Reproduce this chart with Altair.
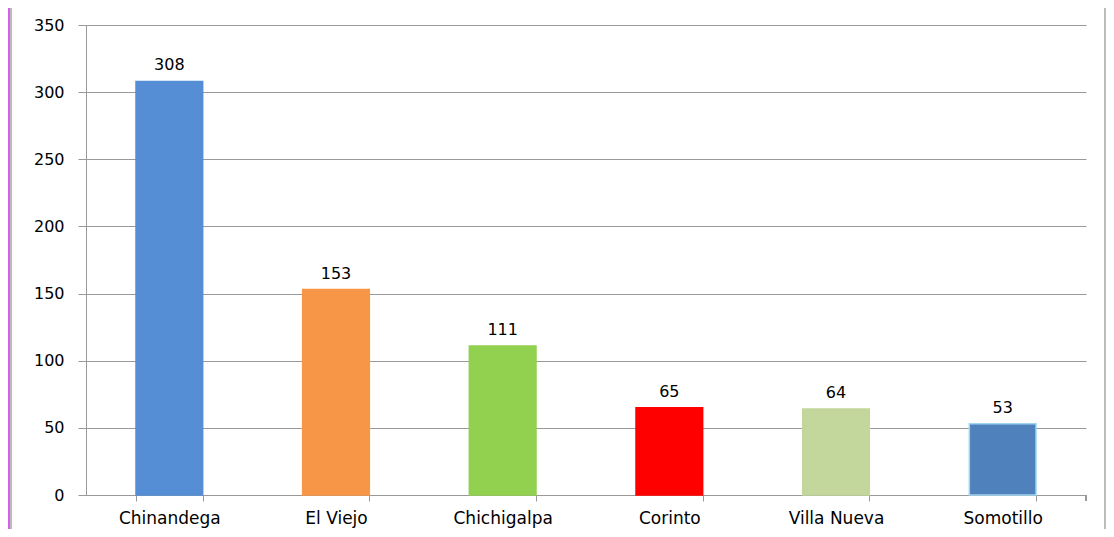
import altair as alt
import pandas as pd

categories = ["Chinandega", "El Viejo", "Chichigalpa", "Corinto", "Villa Nueva", "Somotillo"]
values = [308, 153, 111, 65, 64, 53]
colors = ["#558ed5", "#f79646", "#92d050", "#ff0000", "#c3d69b", "#4f81bd"]
strokes = ["#558ed5", "#f79646", "#92d050", "#ff0000", "#c3d69b", "#9fd3ef"]
y_ticks = [0, 50, 100, 150, 200, 250, 300, 350]

df = pd.DataFrame({"cat": categories, "val": values, "color": colors, "stroke": strokes})

FONT = "DejaVu Sans"

xenc = alt.X("cat:N", sort=categories, title=None,
             scale=alt.Scale(paddingInner=0.6, paddingOuter=0.3),
             axis=alt.Axis(labelAngle=0, labelFontSize=17, labelFont=FONT, labelColor="#000000",
                           labelPadding=9, tickBand="extent", tickSize=6, tickColor="#999999",
                           domainColor="#999999", grid=False))
yenc = alt.Y("val:Q", title=None,
             scale=alt.Scale(domain=[0, 350], nice=False),
             axis=alt.Axis(values=y_ticks, labelFontSize=16, labelFont=FONT, labelColor="#000000",
                           labelPadding=14, tickSize=8, tickColor="#999999", domainColor="#999999",
                           gridColor="#999999", gridWidth=1))

# decorative purple frame strip on the left and thin gray panel edges
strip = alt.Chart(df).mark_rect(fill="#d35fea").encode(
    x=alt.value(-78), x2=alt.value(-75), y=alt.value(-17), y2=alt.value(504)
)
edge_left = alt.Chart(df).mark_rule(color="#bbbbbb", strokeWidth=1).encode(
    x=alt.value(-75), y=alt.value(-17), y2=alt.value(504)
)
edge_right = alt.Chart(df).mark_rule(color="#bbbbbb", strokeWidth=1).encode(
    x=alt.value(1019), y=alt.value(-17), y2=alt.value(504)
)
end_tick = alt.Chart(df).mark_rule(color="#999999", strokeWidth=1).encode(
    x=alt.value(1000), y=alt.value(470), y2=alt.value(476)
)

bars = alt.Chart(df).mark_bar(strokeWidth=1.5).encode(
    x=xenc, y=yenc,
    fill=alt.Fill("color:N", scale=None),
    stroke=alt.Stroke("stroke:N", scale=None),
)

labels = alt.Chart(df).mark_text(baseline="alphabetic", dy=-11, fontSize=16, font=FONT, color="#000000").encode(
    x=alt.X("cat:N", sort=categories), y=alt.Y("val:Q"), text="val:Q"
)

chart = alt.layer(bars, labels, strip, edge_left, edge_right, end_tick).properties(
    width=1000, height=470,
    background="white",
    padding={"left": 78, "top": 17, "right": 20, "bottom": 34},
    autosize=alt.AutoSizeParams(type="none"),
).configure_view(stroke=None)

chart.save("out.html", embed_options={"renderer": "svg", "actions": False})
